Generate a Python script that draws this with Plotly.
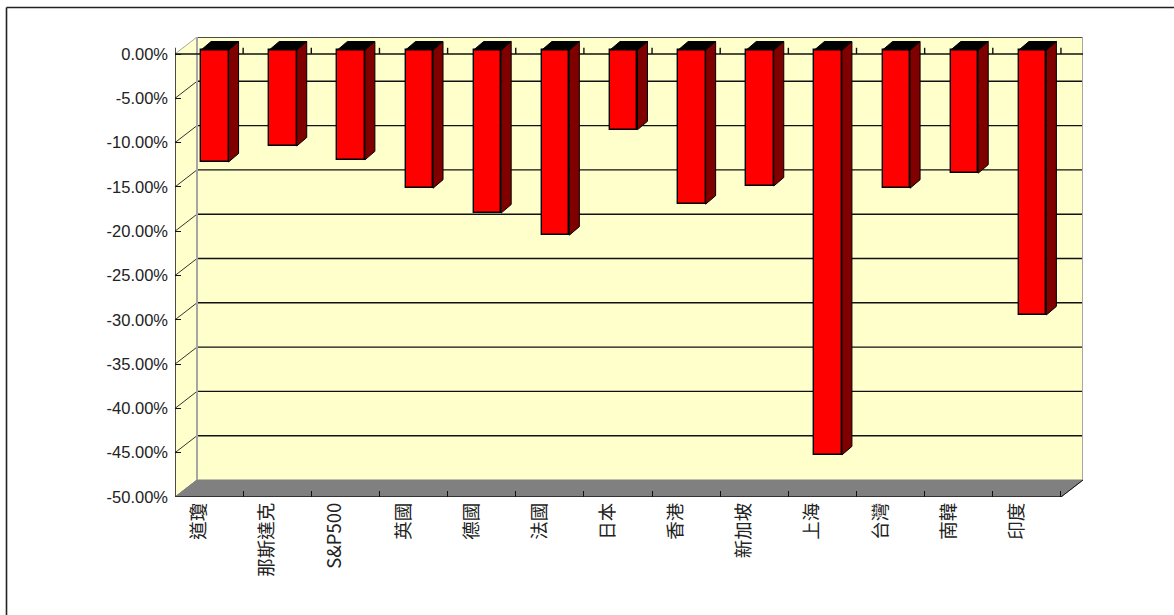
import plotly.graph_objects as go

categories = ["道瓊", "那斯達克", "S&P500", "英國", "德國", "法國", "日本", "香港", "新加坡", "上海", "台灣", "南韓", "印度"]
values = [-12.64, -10.84, -12.4, -15.6, -18.4, -20.9, -9.0, -17.4, -15.35, -45.7, -15.6, -13.9, -29.9]
y_ticks = [0, -5, -10, -15, -20, -25, -30, -35, -40, -45, -50]
y_labels = ["0.00%", "-5.00%", "-10.00%", "-15.00%", "-20.00%", "-25.00%", "-30.00%", "-35.00%", "-40.00%", "-45.00%", "-50.00%"]

W, H = 1174, 615
L, R, T, B = 175, 1083, 37, 497      # plot box in pixels
CAT_PX = 68.15                       # width of one category
PCT_PX = 8.86                        # pixels per percentage point
WALL_DX = 22 / CAT_PX                # depth of the 3D box, data units
WALL_DY = 17 / PCT_PX
BAR_DX1, BAR_DY1 = 5.75 / CAT_PX, 4 / PCT_PX    # bar front-face depth
BAR_DX2, BAR_DY2 = 15.75 / CAT_PX, 12.5 / PCT_PX  # bar back-face depth
BAR_W = 27.5 / CAT_PX
LABEL_SHIFT = -10 / CAT_PX

x_max = (R - L) / CAT_PX
n = len(categories)
ink = "#111111"
wall = "#ffffcc"
floor = "#808080"
edge = "#a6a6a6"


def poly(points, fill, line=None, width=1):
    path = "M" + " L".join(f"{x},{y}" for x, y in points) + " Z"
    return dict(type="path", path=path, xref="x", yref="y", layer="below",
                fillcolor=fill, line=dict(color=line or fill, width=width))


def seg(x0, y0, x1, y1, color=ink, width=1.4, layer="below"):
    return dict(type="line", x0=x0, y0=y0, x1=x1, y1=y1, xref="x", yref="y", layer=layer,
                line=dict(color=color, width=width))


def frame(x0, y0, x1, y1):
    return dict(type="line", xref="paper", yref="paper", layer="below",
                x0=(x0 - L) / (R - L), x1=(x1 - L) / (R - L),
                y0=(B - y0) / (B - T), y1=(B - y1) / (B - T),
                line=dict(color="#222222", width=1.6))


shapes = [
    # outer frame of the picture: only its top and left edges are in view
    frame(6.5, 7.5, W, 7.5),
    frame(6.5, 7.5, 6.5, H),
    # back wall, left wall, floor
    poly([(WALL_DX, WALL_DY), (x_max, WALL_DY), (x_max, -50 + WALL_DY), (WALL_DX, -50 + WALL_DY)], wall),
    poly([(0, 0), (WALL_DX, WALL_DY), (WALL_DX, -50 + WALL_DY), (0, -50)], wall),
    poly([(0, -50), (WALL_DX, -50 + WALL_DY), (x_max, -50 + WALL_DY), (n, -50)], floor),
]
for t in y_ticks[1:-1]:
    shapes.append(seg(WALL_DX, t + WALL_DY, x_max, t + WALL_DY))
    shapes.append(seg(0, t, WALL_DX, t + WALL_DY, "#333333", 1))
shapes += [
    seg(WALL_DX, WALL_DY, x_max, WALL_DY),
    seg(WALL_DX, WALL_DY, WALL_DX, -50 + WALL_DY, edge, 2),
    seg(x_max, WALL_DY, x_max, -50 + WALL_DY, edge, 2),
    seg(0, 0, WALL_DX, WALL_DY, edge, 1),
    seg(0, -50, WALL_DX, -50 + WALL_DY, floor, 1),
    seg(n, -50, x_max, -50 + WALL_DY, ink, 1),
    seg(0, 0, x_max, 0),
    seg(0, -50, 0, 0.7, ink, 1.5),
    seg(0, -50, n, -50, "#333333", 2),
]
for k in range(1, n + 1):
    shapes.append(seg(k, 0, k, 0.7, ink))

fig = go.Figure()
centers = [i + 0.5 for i in range(n)]
label_pos = [c + LABEL_SHIFT for c in centers]

fig.add_trace(go.Bar(
    x=[c + BAR_DX1 for c in centers], y=values, base=BAR_DY1, width=BAR_W,
    marker=dict(color="#ff0000", line=dict(color="#000000", width=1.4)),
    hoverinfo="skip", showlegend=False,
))

for c, v in zip(centers, values):
    x0 = c + BAR_DX1 - BAR_W / 2
    x1 = c + BAR_DX1 + BAR_W / 2
    ddx = BAR_DX2 - BAR_DX1
    top, top2, bot, bot2 = BAR_DY1, BAR_DY2, v + BAR_DY1, v + BAR_DY2
    fig.add_trace(go.Scatter(
        x=[x1, x1 + ddx, x1 + ddx, x1, x1], y=[top, top2, bot2, bot, top],
        mode="lines", fill="toself", fillcolor="#800000",
        line=dict(color="#000000", width=1), hoverinfo="skip", showlegend=False))
    fig.add_trace(go.Scatter(
        x=[x0, x0 + ddx, x1 + ddx, x1, x0], y=[top, top2, top2, top, top],
        mode="lines", fill="toself", fillcolor="#000000",
        line=dict(color="#000000", width=1), hoverinfo="skip", showlegend=False))

fig.update_layout(
    width=W, height=H, autosize=False,
    margin=dict(l=L, r=W - R, t=T, b=H - B),
    paper_bgcolor="#ffffff", plot_bgcolor="rgba(0,0,0,0)",
    shapes=shapes, showlegend=False, bargap=0,
    font=dict(family="Liberation Sans, Noto Sans CJK TC", color="#222222", size=16.5),
    xaxis=dict(range=[0, x_max], showgrid=False, zeroline=False, showline=False,
               tickmode="array", tickvals=label_pos, ticktext=categories, tickangle=-90,
               ticks="", ticklabelstandoff=1,
               tickfont=dict(family="Noto Sans CJK TC, Liberation Sans", size=18.5),
               minor=dict(tickmode="array", tickvals=list(range(1, n + 1)), ticks="inside",
                          ticklen=6, tickcolor=ink, tickwidth=1.4)),
    yaxis=dict(range=[-50, (B - T) / PCT_PX - 50], showgrid=False, zeroline=False, showline=False,
               tickmode="array", tickvals=y_ticks, ticktext=y_labels,
               ticks="inside", ticklen=6, tickcolor=ink, tickwidth=1.4,
               ticklabelstandoff=6),
)

fig.write_html("out.html", config=dict(displayModeBar=False),
               post_script="document.body.style.margin='0';document.documentElement.style.overflow='hidden';")
